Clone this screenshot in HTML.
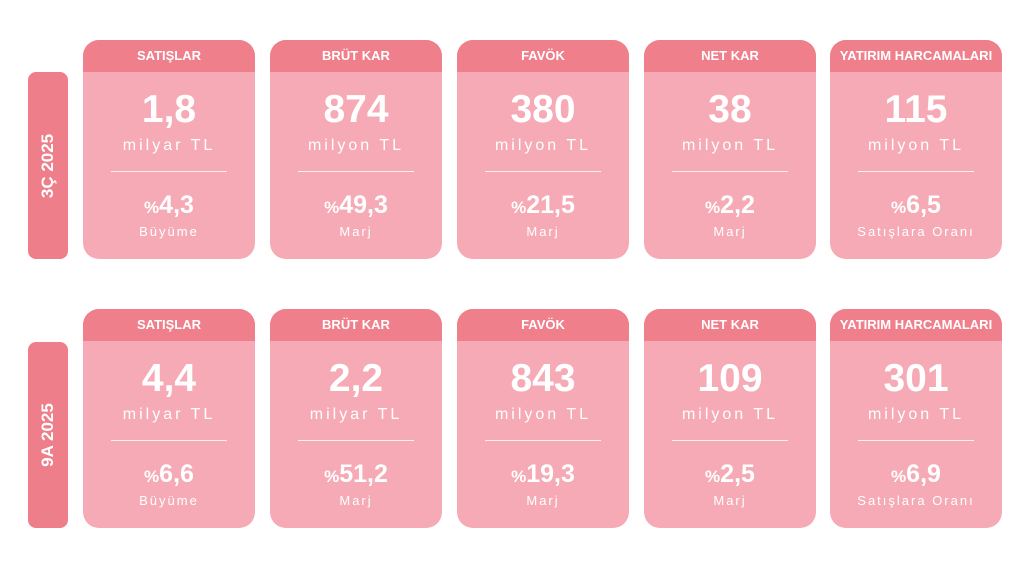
<!DOCTYPE html>
<html><head><meta charset="utf-8"><style>
body{margin:0;width:1030px;height:569px;background:#fff;font-family:"Liberation Sans",sans-serif;position:relative;overflow:hidden}
.side{position:absolute;left:28px;width:40px;background:#ee7f8a;border-radius:8px;color:#fff;font-weight:bold;font-size:17px}
.side span{position:absolute;left:50%;top:50%;transform:translate(-50%,-50%) rotate(-90deg);white-space:nowrap}
.card{position:absolute;width:172px;height:219px;background:#f5aab5;border-radius:16px;overflow:hidden;color:#fff;text-align:center}
.hd{height:32px;background:#ef808b;font-weight:bold;font-size:13px;line-height:32px}
.big{position:absolute;top:50px;width:100%;font-size:39px;font-weight:bold;line-height:40px}
.unit{position:absolute;top:97px;width:100%;font-size:16px;letter-spacing:3px;line-height:18px}
.div{position:absolute;top:131px;left:28px;right:28px;height:1px;background:rgba(255,255,255,.8)}
.pct{position:absolute;top:151px;width:100%;font-size:25px;font-weight:bold;line-height:28px}
.pct small{font-size:17px}
.sub{position:absolute;top:184px;width:100%;font-size:13px;letter-spacing:2px;line-height:15px}
</style></head><body>
<div class="side" style="top:72px;height:187px"><span>3Ç 2025</span></div>
<div class="side" style="top:342px;height:186px"><span>9A 2025</span></div>
<script>
const titles=["SATIŞLAR","BRÜT KAR","FAVÖK","NET KAR","YATIRIM HARCAMALARI"];
const row1Values=["1,8","874","380","38","115"];
const row1Units=["milyar TL","milyon TL","milyon TL","milyon TL","milyon TL"];
const row1Pcts=["4,3","49,3","21,5","2,2","6,5"];
const row2Values=["4,4","2,2","843","109","301"];
const row2Units=["milyar TL","milyar TL","milyon TL","milyon TL","milyon TL"];
const row2Pcts=["6,6","51,2","19,3","2,5","6,9"];
const subs=["Büyüme","Marj","Marj","Marj","Satışlara Oranı"];
const xs=[83,270,457,644,830];
[[40,row1Values,row1Units,row1Pcts],[309,row2Values,row2Units,row2Pcts]].forEach(([top,v,u,p],r)=>{
 titles.forEach((t,i)=>{
  const c=document.createElement('div');c.className='card';
  c.style.left=xs[i]+'px';c.style.top=top+'px';
  
  
  c.innerHTML=`<div class="hd">${t}</div><div class="big">${v[i]}</div><div class="unit">${u[i]}</div><div class="div"></div><div class="pct"><small>%</small>${p[i]}</div><div class="sub">${subs[i]}</div>`;
  document.body.appendChild(c);
 });
});
</script>
</body></html>
